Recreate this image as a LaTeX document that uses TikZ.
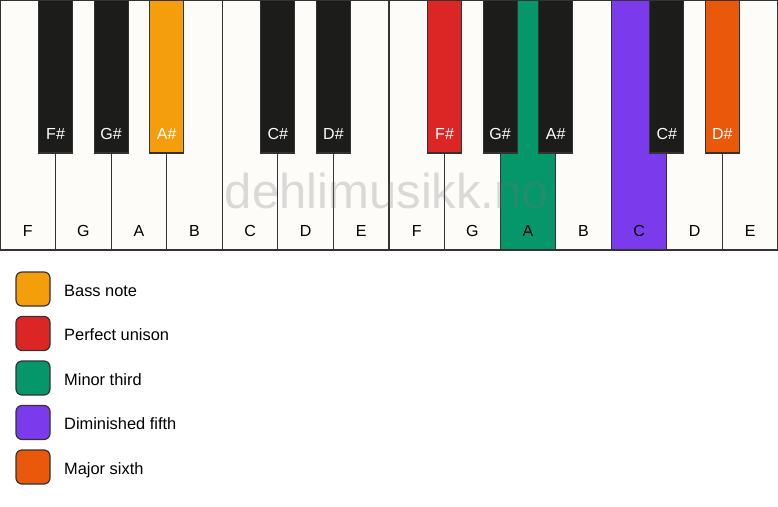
\documentclass[tikz,border=0pt]{standalone}
\usepackage{fontspec}
\setmainfont{Liberation Sans}
\usepackage{tikz}
\usetikzlibrary{positioning}
\definecolor{keyline}{HTML}{333333}
\definecolor{keywhite}{HTML}{FDFCF9}
\definecolor{keyblack}{HTML}{1C1C1A}
\definecolor{bassnote}{HTML}{F59E0B}
\definecolor{unison}{HTML}{DC2626}
\definecolor{minthird}{HTML}{059669}
\definecolor{dimfifth}{HTML}{7C3AED}
\definecolor{majsixth}{HTML}{EA580C}

\begin{document}
\begin{tikzpicture}[x=1pt,y=-1pt]
\useasboundingbox (0,0) rectangle (778,506);

\tikzstyle{white key} = [draw=keyline,fill=keywhite,line width=1.2pt,outer sep=0pt,inner sep=0pt,
        anchor=north west,minimum width=55.57pt,minimum height=250pt]
\tikzstyle{black key} = [draw=keyline,fill=keyblack,line width=1.2pt,outer sep=0pt,inner sep=0pt,
        anchor=north,minimum width=34pt,minimum height=153pt]
\tikzstyle{white name} = [anchor=base,inner sep=0pt,text=black,font=\fontsize{16}{19}\selectfont]
\tikzstyle{black name} = [white name,text=white]
\tikzstyle{swatch} = [draw=keyline,line width=1.2pt,rounded corners=6pt,outer sep=0pt,inner sep=0pt,minimum size=34pt]
\tikzstyle{legend text} = [inner sep=0pt,text height=14pt,text depth=0pt,font=\fontsize{16.4}{19}\selectfont]

% white keys
\path (0,0) node[white key] (kF) {};
\path node[white key,right=0pt of kF] (kG) {};
\path node[white key,right=0pt of kG] (kA) {};
\path node[white key,right=0pt of kA] (kB) {};
\path node[white key,right=0pt of kB] (kC) {};
\path node[white key,right=0pt of kC] (kD) {};
\path node[white key,right=0pt of kD] (kE) {};
\path node[white key,right=0pt of kE] (kFF) {};
\path node[white key,right=0pt of kFF] (kGG) {};
\path node[white key,right=0pt of kGG,fill=minthird] (kAA) {};
\path node[white key,right=0pt of kAA] (kBB) {};
\path node[white key,right=0pt of kBB,fill=dimfifth] (kCC) {};
\path node[white key,right=0pt of kCC] (kDD) {};
\path node[white key,right=0pt of kDD] (kEE) {};

\path ([yshift=14pt]kF.south) node[white name] (nF) {F};
\path ([yshift=14pt]kG.south) node[white name] (nG) {G};
\path ([yshift=14pt]kA.south) node[white name] (nA) {A};
\path ([yshift=14pt]kB.south) node[white name] (nB) {B};
\path ([yshift=14pt]kC.south) node[white name] (nC) {C};
\path ([yshift=14pt]kD.south) node[white name] (nD) {D};
\path ([yshift=14pt]kE.south) node[white name] (nE) {E};
\path ([yshift=14pt]kFF.south) node[white name] (nFF) {F};
\path ([yshift=14pt]kGG.south) node[white name] (nGG) {G};
\path ([yshift=14pt]kAA.south) node[white name] (nAA) {A};
\path ([yshift=14pt]kBB.south) node[white name] (nBB) {B};
\path ([yshift=14pt]kCC.south) node[white name] (nCC) {C};
\path ([yshift=14pt]kDD.south) node[white name] (nDD) {D};
\path ([yshift=14pt]kEE.south) node[white name] (nEE) {E};

% black keys
\path (kF.north east) node[black key] (bFs) {};
\path (kG.north east) node[black key] (bGs) {};
\path (kA.north east) node[black key,fill=bassnote] (bAs) {};
\path (kC.north east) node[black key] (bCs) {};
\path (kD.north east) node[black key] (bDs) {};
\path (kFF.north east) node[black key,fill=unison] (bFFs) {};
\path (kGG.north east) node[black key] (bGGs) {};
\path (kAA.north east) node[black key] (bAAs) {};
\path (kCC.north east) node[black key] (bCCs) {};
\path (kDD.north east) node[black key,fill=majsixth] (bDDs) {};

\path ([yshift=14pt]bFs.south) node[black name] (nFs) {F\#};
\path ([yshift=14pt]bGs.south) node[black name] (nGs) {G\#};
\path ([yshift=14pt]bAs.south) node[black name] (nAs) {A\#};
\path ([yshift=14pt]bCs.south) node[black name] (nCs) {C\#};
\path ([yshift=14pt]bDs.south) node[black name] (nDs) {D\#};
\path ([yshift=14pt]bFFs.south) node[black name] (nFFs) {F\#};
\path ([yshift=14pt]bGGs.south) node[black name] (nGGs) {G\#};
\path ([yshift=14pt]bAAs.south) node[black name] (nAAs) {A\#};
\path ([yshift=14pt]bCCs.south) node[black name] (nCCs) {C\#};
\path ([yshift=14pt]bDDs.south) node[black name] (nDDs) {D\#};

% watermark
\path (387,208) node[anchor=base,inner sep=0pt,text=black!55,opacity=0.25,
        font=\fontsize{49}{55}\selectfont] (mark) {dehlimusikk.no};

% legend
\path (33,289) node[swatch,fill=bassnote] (sBass) {};
\path node[swatch,fill=unison,below=10.5pt of sBass] (sUnison) {};
\path node[swatch,fill=minthird,below=10.5pt of sUnison] (sThird) {};
\path node[swatch,fill=dimfifth,below=10.5pt of sThird] (sFifth) {};
\path node[swatch,fill=majsixth,below=10.5pt of sFifth] (sSixth) {};

\path node[legend text,right=14pt of sBass] (tBass) {Bass note};
\path node[legend text,right=14pt of sUnison] (tUnison) {Perfect unison};
\path node[legend text,right=14pt of sThird] (tThird) {Minor third};
\path node[legend text,right=14pt of sFifth] (tFifth) {Diminished fifth};
\path node[legend text,right=14pt of sSixth] (tSixth) {Major sixth};

\end{tikzpicture}
\end{document}
